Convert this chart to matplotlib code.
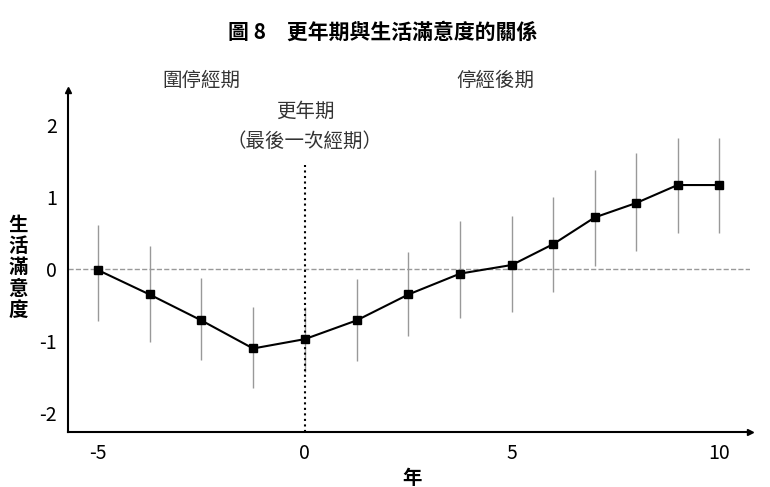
import matplotlib
matplotlib.use("Agg")
import matplotlib.pyplot as plt

years = [-5, -3.75, -2.5, -1.25, 0, 1.25, 2.5, 3.75, 5, 6, 7, 8, 9, 10]
sat = [-0.01, -0.35, -0.71, -1.1, -0.97, -0.71, -0.35, -0.06, 0.06, 0.35, 0.72, 0.92, 1.17, 1.17]
upper = [0.61, 0.33, -0.12, -0.53, -0.53, -0.14, 0.24, 0.67, 0.74, 1.01, 1.38, 1.61, 1.83, 1.83]
lower = [-0.72, -1.01, -1.26, -1.65, -1.42, -1.28, -0.92, -0.67, -0.6, -0.32, 0.04, 0.26, 0.5, 0.5]
xticks = [-5, 0, 5, 10]
yticks = [-2, -1, 0, 1, 2]

plt.rcParams['font.family'] = ['Noto Sans CJK TC', 'DejaVu Sans']
plt.rcParams['axes.unicode_minus'] = False
fig = plt.figure(figsize=(7.7, 4.87), dpi=100)
ax = fig.add_axes([68/770, 1-432/487, 682/770, 342/487])
ax.set_xlim(-5.72, 10.75)
ax.set_ylim(-2.26, 2.49)

yerr = [[s - l for s, l in zip(sat, lower)], [u - s for s, u in zip(sat, upper)]]
ax.errorbar(years, sat, yerr=yerr, fmt='none', ecolor='#999999', elinewidth=1, zorder=1)
ax.plot(years, sat, color='black', lw=1.5, marker='s', ms=6, zorder=3)
ax.axhline(0, color='#999999', ls='--', lw=1, zorder=0)
ax.vlines(0, -2.26, 1.45, color='black', ls=':', lw=1.5, zorder=2)

for s in ['top', 'right']:
    ax.spines[s].set_visible(False)
ax.spines['left'].set_linewidth(1.5)
ax.spines['bottom'].set_linewidth(1.5)
ax.plot(1, 0, '>k', transform=ax.transAxes, clip_on=False, ms=5)
ax.plot(0, 1, '^k', transform=ax.transAxes, clip_on=False, ms=5)

ax.set_xticks(xticks)
ax.set_yticks(yticks)
ax.tick_params(labelsize=14, length=0, pad=8)

ax.text(-2.5, 2.62, '圍停經期', fontsize=14, ha='center', va='center', clip_on=False, color='#333333')
ax.text(4.6, 2.62, '停經後期', fontsize=14, ha='center', va='center', clip_on=False, color='#333333')
ax.text(0, 2.2, '更年期', fontsize=14, ha='center', va='center', color='#333333')
ax.text(0, 1.77, '（最後一次經期）', fontsize=14, ha='center', va='center', color='#333333')

fig.text(383/770, 1-32/487, '圖 8　更年期與生活滿意度的關係', fontsize=15, fontweight='bold',
         ha='center', va='center')
fig.text(18/770, 1-268/487, '生\n活\n滿\n意\n度', fontsize=14, fontweight='bold',
         ha='center', va='center', linespacing=1.15)
fig.text(412/770, 1-478/487, '年', fontsize=14, fontweight='bold', ha='center', va='center')

fig.savefig('out.png', dpi=100)
